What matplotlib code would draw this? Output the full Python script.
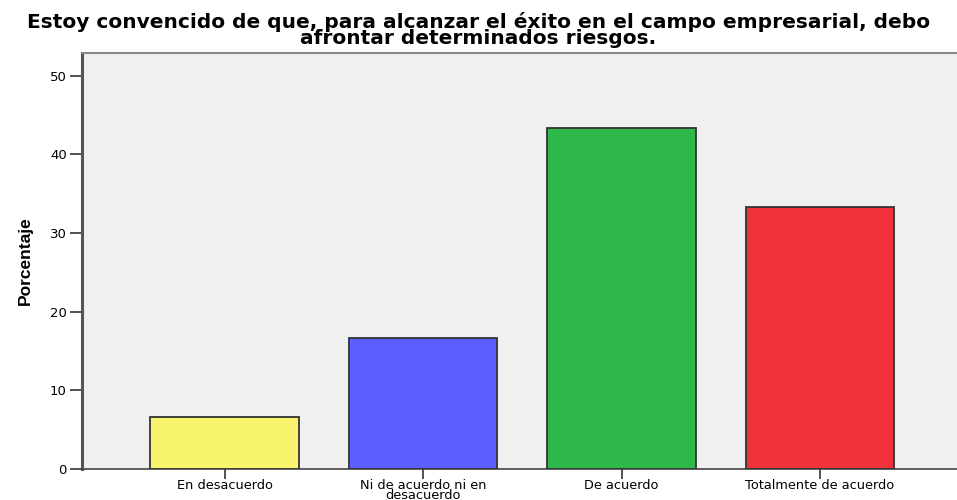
import matplotlib
matplotlib.use("Agg")
import matplotlib.pyplot as plt

categorias = ["En desacuerdo", "Ni de acuerdo ni en\ndesacuerdo", "De acuerdo", "Totalmente de acuerdo"]
porcentajes = [6.67, 16.67, 43.33, 33.33]
colores = ["#F8F46E", "#5B5FFF", "#2FB84B", "#F0323A"]
ticks_y = [0, 10, 20, 30, 40, 50]

plt.rcParams["font.family"] = ["DejaVu Sans"]

fig = plt.figure(figsize=(9.57, 5.0), dpi=100)
ax = fig.add_axes([82 / 957, 1 - 469 / 500, 1 - 82 / 957, (469 - 53) / 500])
ax.set_facecolor("#F0F0F0")

x = list(range(len(categorias)))
ax.bar(x, porcentajes, width=0.75, color=colores, edgecolor="#333333", linewidth=1.3, zorder=3)

ax.set_xlim(-0.718, 3.69)
ax.set_ylim(0, 52.9)
ax.set_yticks(ticks_y)
ax.set_xticks(x)
ax.set_xticklabels(categorias, fontsize=9.3, linespacing=0.72)
ax.tick_params(axis="y", labelsize=9.5, length=9, width=1.2, color="#333333", pad=2)
ax.tick_params(axis="x", length=7, width=1.2, color="#333333", pad=0)

ax.spines["left"].set_color("#555555")
ax.spines["left"].set_linewidth(2.2)
ax.spines["bottom"].set_color("#444444")
ax.spines["bottom"].set_linewidth(1.2)
ax.spines["top"].set_color("#888888")
ax.spines["top"].set_linewidth(1.5)
ax.spines["right"].set_visible(False)

ax.set_ylabel("Porcentaje", fontsize=12.5, fontweight="bold",
              family=["Liberation Sans"], labelpad=12)

fig.text(0.5, 1 - 30 / 500,
         "Estoy convencido de que, para alcanzar el éxito en el campo empresarial, debo\nafrontar determinados riesgos.",
         ha="center", va="center", fontsize=14.5, fontweight="bold", linespacing=0.78)

fig.savefig("out.png", dpi=100)
